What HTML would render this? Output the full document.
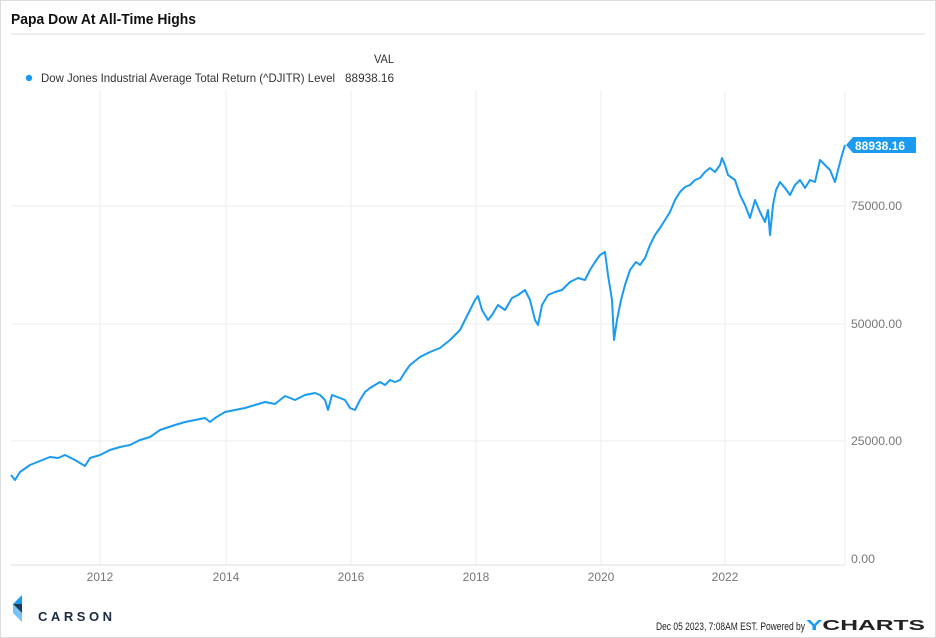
<!DOCTYPE html>
<html><head><style>
body{margin:0;background:#fff;font-family:"Liberation Sans",sans-serif;}
.wrap{position:relative;width:936px;height:638px;overflow:hidden;}
</style></head><body><div class="wrap">
<svg width="936" height="638" xmlns="http://www.w3.org/2000/svg" font-family="Liberation Sans, sans-serif">
<rect x="0.5" y="0.5" width="935" height="637" fill="#fff" stroke="#ddd"/>
<text x="11" y="24" font-size="15" font-weight="bold" fill="#111" textLength="185" lengthAdjust="spacingAndGlyphs">Papa Dow At All-Time Highs</text>
<line x1="11" y1="34" x2="925" y2="34" stroke="#e6e6e6" stroke-width="1.5"/>
<text x="374" y="63" font-size="12" fill="#333" textLength="20" lengthAdjust="spacingAndGlyphs">VAL</text>
<circle cx="29" cy="78" r="3.2" fill="#1a9bf0"/>
<text x="41" y="82" font-size="12" fill="#333" textLength="294" lengthAdjust="spacingAndGlyphs">Dow Jones Industrial Average Total Return (^DJITR) Level</text>
<text x="345" y="82" font-size="12" fill="#333" textLength="49" lengthAdjust="spacingAndGlyphs">88938.16</text>
<g stroke="#eeeeee" stroke-width="1">
<line x1="100" y1="90" x2="100" y2="565"/><line x1="226" y1="90" x2="226" y2="565"/>
<line x1="351" y1="90" x2="351" y2="565"/><line x1="476" y1="90" x2="476" y2="565"/>
<line x1="601" y1="90" x2="601" y2="565"/><line x1="725" y1="90" x2="725" y2="565"/>
<line x1="845" y1="90" x2="845" y2="565"/>
<line x1="11" y1="206" x2="845" y2="206"/><line x1="11" y1="324" x2="845" y2="324"/>
<line x1="11" y1="441" x2="845" y2="441"/>
</g>
<line x1="11" y1="565" x2="845" y2="565" stroke="#ddd"/>
<g font-size="12" fill="#777">
<text x="851" y="210" textLength="51" lengthAdjust="spacingAndGlyphs">75000.00</text><text x="851" y="328" textLength="51" lengthAdjust="spacingAndGlyphs">50000.00</text>
<text x="851" y="445" textLength="51" lengthAdjust="spacingAndGlyphs">25000.00</text><text x="851" y="563" textLength="24" lengthAdjust="spacingAndGlyphs">0.00</text>
<g text-anchor="middle"><text x="100" y="581">2012</text><text x="226" y="581">2014</text><text x="351" y="581">2016</text><text x="476" y="581">2018</text><text x="601" y="581">2020</text><text x="725" y="581">2022</text></g>
</g>
<polyline fill="none" stroke="#1a9bf0" stroke-width="2" stroke-linejoin="round" points="11,475 15,480 20,472 30,465 40,461 50,457 58,458 65,455 75,460 80,463 85,466 90,458 100,455 110,450 120,447 130,445 140,440 150,437 160,430 175,425 185,422 195,420 205,418 210,422 215,418 225,412 235,410 245,408 255,405 265,402 275,404 285,396 295,400 305,395 315,393 320,395 325,400 328,410 332,395 340,398 345,400 350,408 355,410 360,400 365,392 370,388 375,385 380,382 385,385 390,380 395,382 400,380 405,372 410,365 420,357 430,352 440,348 450,340 460,330 465,320 470,310 475,300 478,296 482,310 488,320 492,315 498,305 505,310 512,298 518,295 525,290 530,300 535,320 538,325 542,305 548,295 555,292 562,290 570,282 578,278 585,280 590,270 595,262 600,255 605,252 608,275 612,300 614,340 617,320 621,300 625,285 630,270 636,262 640,265 645,258 650,245 655,235 660,228 665,220 670,212 675,200 680,192 685,187 690,185 695,180 700,178 705,172 710,168 715,172 720,165 722,158 725,165 728,175 735,180 740,195 745,205 750,218 755,200 760,212 765,222 768,210 770,235 773,205 776,190 780,182 785,188 790,195 795,185 800,180 805,188 810,180 815,182 820,160 825,165 830,170 835,182 838,170 842,155 845,145"/>
<polygon points="846,145 853,137 916,137 916,153 853,153" fill="#1a9bf0"/>
<text x="855" y="150" font-size="12" font-weight="bold" fill="#fff" textLength="50" lengthAdjust="spacingAndGlyphs">88938.16</text>
<polygon points="13,604 22,595 22,604" fill="#1a9bf0"/>
<polygon points="13,604 22,613 22,604" fill="#1a3a5a"/>
<polygon points="13,604 22,613 22,622 13,613" fill="#1a9bf0" opacity="0.6"/>
<text x="38" y="621" font-size="13" fill="#1a2a40" font-weight="bold" textLength="74" lengthAdjust="spacing">CARSON</text>
<text x="656" y="630" font-size="11" fill="#222" textLength="149" lengthAdjust="spacingAndGlyphs">Dec 05 2023, 7:08AM EST. Powered by</text>
<text x="806" y="630" font-size="15" font-weight="bold" fill="#222" textLength="119" lengthAdjust="spacingAndGlyphs"><tspan fill="#1a9bf0">Y</tspan>CHARTS</text>
</svg>
</div></body></html>
